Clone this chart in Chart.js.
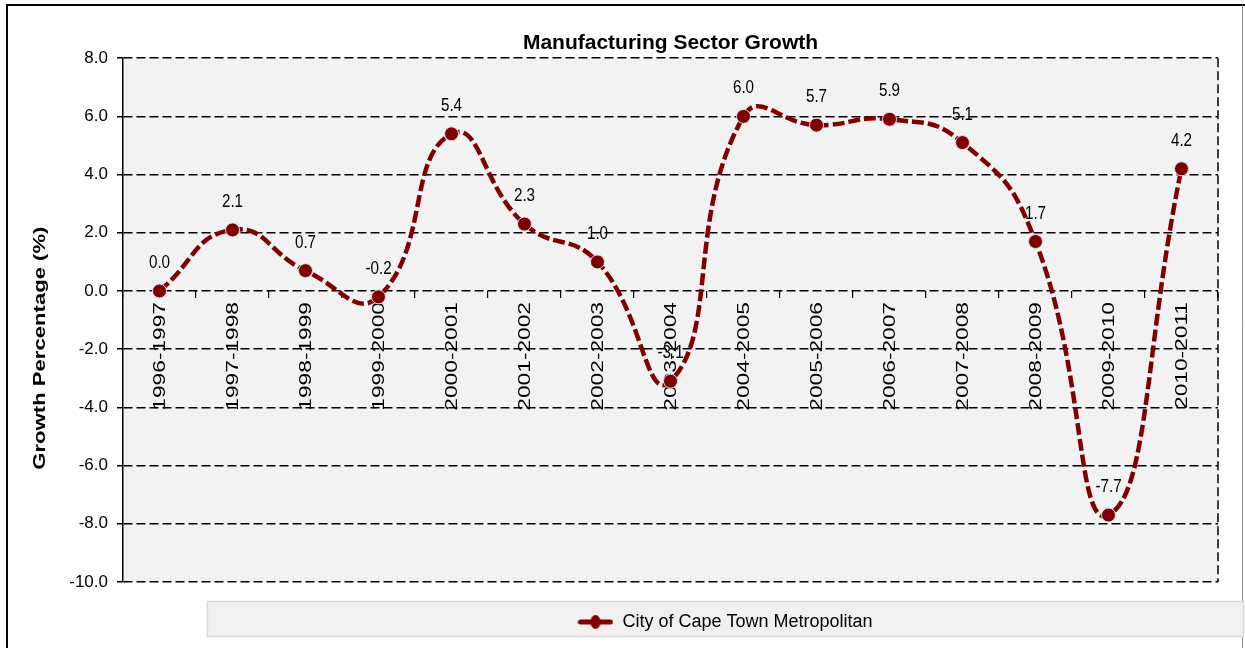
<!DOCTYPE html>
<html>
<head>
<meta charset="utf-8">
<title>Manufacturing Sector Growth</title>
<script src="https://cdn.jsdelivr.net/npm/chart.js@4.4.1/dist/chart.umd.min.js"></script>
<style>
  html, body { margin: 0; padding: 0; background: #fff; }
  #wrap { position: relative; width: 1245px; height: 648px; }
</style>
</head>
<body>
<div id="wrap"><canvas id="growthChart"></canvas></div>
<script>
const periods = ["1996-1997", "1997-1998", "1998-1999", "1999-2000", "2000-2001",
                 "2001-2002", "2002-2003", "2003-2004", "2004-2005", "2005-2006",
                 "2006-2007", "2007-2008", "2008-2009", "2009-2010", "2010-2011"];
const growth = [0.0, 2.1, 0.7, -0.2, 5.4, 2.3, 1.0, -3.1, 6.0, 5.7, 5.9, 5.1, 1.7, -7.7, 4.2];
const seriesName = "City of Cape Town Metropolitan";
const chartTitle = "Manufacturing Sector Growth";
const axisTitle = "Growth Percentage (%)";
const yMin = -10, yMax = 8, yStep = 2;

const maroon = '#800000';
const sans = '"Liberation Sans", Arial, sans-serif';

// little "line with a dot" swatch for the legend
const legendMarker = document.createElement('canvas');
legendMarker.width = 36;
legendMarker.height = 16;
const m = legendMarker.getContext('2d');
m.strokeStyle = maroon;
m.lineWidth = 5;
m.lineCap = 'round';
m.beginPath(); m.moveTo(3, 8); m.lineTo(33, 8); m.stroke();
m.fillStyle = maroon;
m.beginPath(); m.ellipse(18, 8, 5, 7, 0, 0, Math.PI * 2); m.fill();

const frame = {
    id: 'frame',
    afterLayout(chart) {
        // legend sits in its own grey strip under the plot
        const lg = chart.legend;
        lg.left = 207; lg.right = 1243; lg.width = lg.right - lg.left;
        lg.top = 601; lg.bottom = 636; lg.height = lg.bottom - lg.top;
    },
    beforeDraw(chart) {
        const {ctx, chartArea: a, legend: lg} = chart;
        ctx.save();
        ctx.strokeStyle = '#000';
        ctx.lineWidth = 2;
        ctx.beginPath(); ctx.moveTo(7, 648); ctx.lineTo(7, 5); ctx.lineTo(1245, 5); ctx.stroke();
        ctx.strokeStyle = '#8a8a8a';
        ctx.lineWidth = 1;
        ctx.beginPath(); ctx.moveTo(1242.5, 5); ctx.lineTo(1242.5, 648); ctx.stroke();

        ctx.fillStyle = '#f2f2f2';
        ctx.fillRect(a.left, a.top, a.right - a.left, a.bottom - a.top);
        ctx.setLineDash([9, 4]);
        ctx.strokeStyle = '#000';
        ctx.lineWidth = 1.5;
        ctx.beginPath(); ctx.moveTo(a.right, a.top); ctx.lineTo(a.right, a.bottom); ctx.stroke();

        ctx.setLineDash([]);
        ctx.fillStyle = '#f0f0f0';
        ctx.fillRect(lg.left, lg.top, lg.width, lg.height);
        ctx.strokeStyle = '#d9d9d9';
        ctx.lineWidth = 1.5;
        ctx.strokeRect(lg.left + 0.5, lg.top + 0.5, lg.width, lg.height);
        ctx.restore();
    }
};

// period names hang down from the zero line, rotated
const categoryLabels = {
    id: 'categoryLabels',
    beforeDatasetsDraw(chart) {
        const {ctx, scales: {x, y}} = chart;
        const base = y.getPixelForValue(0) + 11;
        ctx.save();
        ctx.font = '16px ' + sans;
        ctx.fillStyle = '#000';
        ctx.textAlign = 'right';
        ctx.textBaseline = 'middle';
        x.ticks.forEach((t, i) => {
            ctx.save();
            ctx.translate(x.getPixelForTick(i) + 1, base);
            ctx.rotate(-Math.PI / 2);
            ctx.scale(1.42, 1);
            ctx.fillText(periods[i], 0, 0);
            ctx.restore();
        });
        ctx.restore();
    }
};

const valueLabels = {
    id: 'valueLabels',
    afterDatasetsDraw(chart) {
        const {ctx} = chart;
        const meta = chart.getDatasetMeta(0);
        ctx.save();
        ctx.font = '16px ' + sans;
        ctx.fillStyle = '#000';
        ctx.textAlign = 'center';
        ctx.textBaseline = 'alphabetic';
        meta.data.forEach((pt, i) => {
            ctx.save();
            ctx.translate(pt.x, pt.y - 23);
            ctx.scale(0.95, 1.12);
            ctx.fillText(growth[i].toFixed(1), 0, 0);
            ctx.restore();
        });
        ctx.restore();
    }
};

const yTitle = {
    id: 'yTitle',
    afterDraw(chart) {
        const {ctx, chartArea: a} = chart;
        ctx.save();
        ctx.translate(40, (a.top + a.bottom) / 2 + 28);
        ctx.rotate(-Math.PI / 2);
        ctx.scale(1.3, 1);
        ctx.font = 'bold 17px ' + sans;
        ctx.fillStyle = '#000';
        ctx.textAlign = 'center';
        ctx.textBaseline = 'middle';
        ctx.fillText(axisTitle, 0, 0);
        ctx.restore();
    }
};

new Chart(document.getElementById('growthChart'), {
    type: 'line',
    data: {
        labels: periods,
        datasets: [{
            label: seriesName,
            data: growth,
            borderColor: maroon,
            borderWidth: 4.5,
            borderDash: [12, 4],
            tension: 0.5,
            fill: false,
            pointRadius: 7,
            pointBackgroundColor: maroon,
            pointBorderColor: '#d6e3ee',
            pointBorderWidth: 1
        }]
    },
    options: {
        responsive: true,
        maintainAspectRatio: false,
        animation: false,
        layout: { padding: { left: 20, right: 27, top: 0, bottom: 26 } },
        scales: {
            x: {
                type: 'category',
                position: { y: 0 },
                offset: true,
                afterFit: (scale) => { scale.height = 0; },
                ticks: { display: false },
                border: { display: false },
                grid: {
                    offset: true,
                    drawOnChartArea: false,
                    drawTicks: true,
                    tickLength: 7,
                    color: '#000',
                    lineWidth: 1.2
                }
            },
            y: {
                min: yMin,
                max: yMax,
                afterFit: (scale) => { scale.width = 103; },
                ticks: {
                    stepSize: yStep,
                    padding: 9,
                    color: '#000',
                    font: { family: sans, size: 17 },
                    callback: (v) => v.toFixed(1)
                },
                border: { display: true, color: '#000', width: 1.5, dash: [9, 4] },
                grid: {
                    color: '#000',
                    lineWidth: 1.5,
                    drawTicks: true,
                    tickLength: 6
                }
            }
        },
        plugins: {
            title: {
                display: true,
                text: chartTitle,
                fullSize: false,
                color: '#000',
                font: { family: sans, size: 21, weight: 'bold', lineHeight: 1.2 },
                padding: { top: 31, bottom: 2 }
            },
            legend: {
                position: 'bottom',
                labels: {
                    usePointStyle: true,
                    pointStyle: legendMarker,
                    pointStyleWidth: 36,
                    padding: 12,
                    color: '#000',
                    font: { family: sans, size: 18 }
                }
            },
            tooltip: { enabled: false }
        }
    },
    plugins: [frame, categoryLabels, valueLabels, yTitle]
});
</script>
</body>
</html>
